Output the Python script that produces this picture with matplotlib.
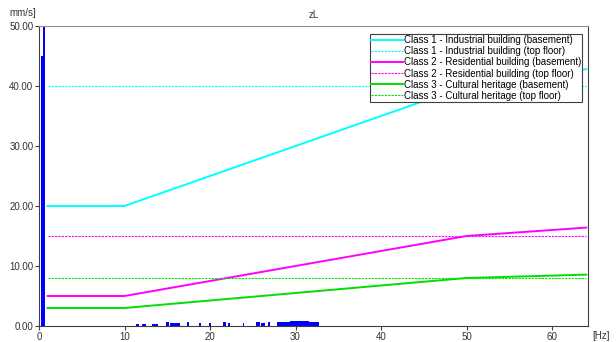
import matplotlib
matplotlib.use("Agg")
import matplotlib.pyplot as plt

# DIN 4150-3 style guide values (mm/s) over frequency (Hz)
freq_pts = [1, 10, 50, 64]
class1_base = [20, 20, 40, 42.8]
class2_base = [5, 5, 15, 16.4]
class3_base = [3, 3, 8, 8.56]
top_range = [1, 64]
class1_top = [40, 40]
class2_top = [15, 15]
class3_top = [8, 8]

# measured spectrum (frequency, amplitude, width)
spec_freq = [0.35, 0.6, 11.5, 12.3, 13.3, 13.7, 15.0, 15.6, 16.2, 17.4, 18.8,
             20.0, 21.7, 22.2, 23.9, 25.6, 26.2, 26.9, 28.2, 29.0, 29.8,
             30.5, 31.2, 31.9, 32.5]
spec_amp = [45, 60, 0.3, 0.35, 0.3, 0.35, 0.6, 0.55, 0.55, 0.6, 0.5,
            0.45, 0.6, 0.45, 0.5, 0.6, 0.55, 0.65, 0.65, 0.7, 0.75,
            0.8, 0.75, 0.7, 0.6]
spec_width = [0.25, 0.25, 0.3, 0.5, 0.2, 0.5, 0.4, 0.6, 0.6, 0.2, 0.2,
              0.2, 0.4, 0.2, 0.2, 0.5, 0.5, 0.3, 0.8, 0.8, 0.8,
              0.8, 0.8, 0.8, 0.6]

plt.rcParams['font.family'] = ['Liberation Sans', 'DejaVu Sans']
plt.rcParams['font.size'] = 7

fig = plt.figure(figsize=(6.16, 3.42), dpi=100)
ax = fig.add_axes([0.0633, 0.0468, 0.8912, 0.8772])

ax.bar(spec_freq, spec_amp, width=spec_width, color='#0000ff', align='center', zorder=2)

ax.plot(freq_pts, class1_base, color='#00ffff', lw=1.4, label='Class 1 - Industrial building (basement)')
ax.plot(top_range, class1_top, color='#00ffff', lw=0.8, ls=(0, (2, 1)), label='Class 1 - Industrial building (top floor)')
ax.plot(freq_pts, class2_base, color='#ff00ff', lw=1.4, label='Class 2 - Residential building (basement)')
ax.plot(top_range, class2_top, color='#ff00ff', lw=0.8, ls=(0, (2, 1)), label='Class 2 - Residential building (top floor)')
ax.plot(freq_pts, class3_base, color='#00e000', lw=1.4, label='Class 3 - Cultural heritage (basement)')
ax.plot(top_range, class3_top, color='#00e000', lw=0.8, ls=(0, (2, 1)), label='Class 3 - Cultural heritage (top floor)')

ax.set_xlim(0, 64.2)
ax.set_ylim(0, 50)
ax.set_xticks([0, 10, 20, 30, 40, 50, 60])
ax.set_yticks([0, 10, 20, 30, 40, 50])
ax.set_yticklabels(['%.2f' % v for v in [0, 10, 20, 30, 40, 50]])
ax.tick_params(length=3, width=0.8, color='#404040', labelcolor='#333333', pad=1)
for side in ['left', 'bottom', 'right']:
    ax.spines[side].set_color('#404040')
ax.spines['top'].set_color('#909090')

ax.set_title('zL', fontsize=7, pad=6, color='#333333')
fig.text(0.016, 0.953, 'mm/s]', fontsize=7, color='#333333')
fig.text(0.975, 0.01, '[Hz]', fontsize=7, color='#333333', ha='center')

leg = ax.legend(loc='upper right', bbox_to_anchor=(0.989, 0.973), fancybox=False,
                framealpha=1, edgecolor='#404040', handlelength=3.3,
                labelspacing=0.12, borderpad=0.1, handletextpad=0.1,
                fontsize=7, borderaxespad=0)
leg.get_frame().set_linewidth(0.8)

fig.savefig('out.png', dpi=100)
